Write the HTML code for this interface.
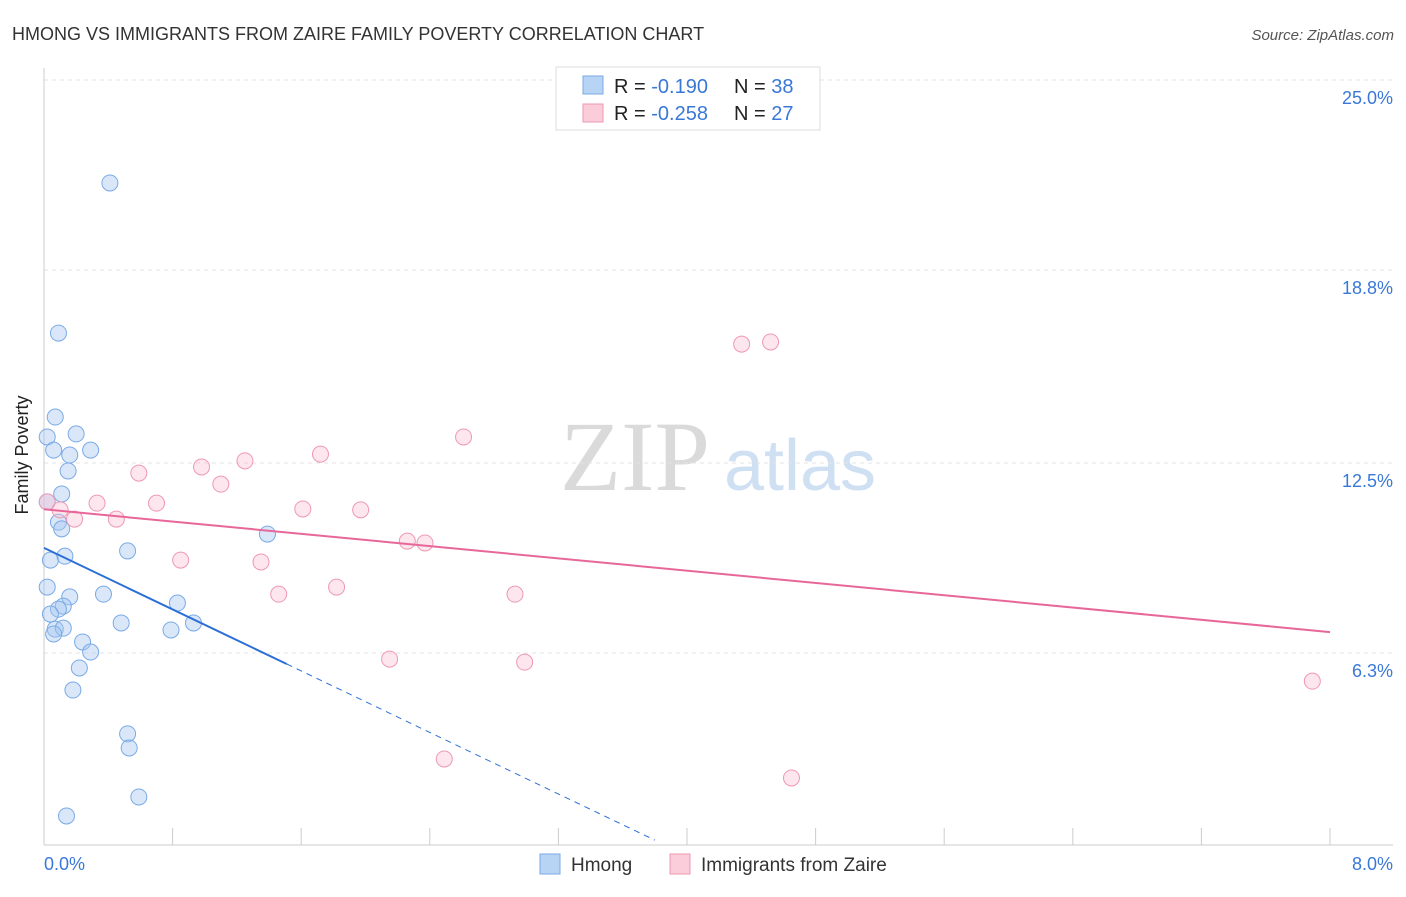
<!DOCTYPE html>
<html><head><meta charset="utf-8">
<style>
body{margin:0;background:#fff;font-family:"Liberation Sans",sans-serif;}
svg text{font-family:"Liberation Sans",sans-serif;}
</style></head>
<body>
<svg id="chart" width="1406" height="892" xmlns="http://www.w3.org/2000/svg">
<text x="12" y="40" font-size="18" fill="#333">HMONG VS IMMIGRANTS FROM ZAIRE FAMILY POVERTY CORRELATION CHART</text>
<text x="1394" y="40" font-size="15" fill="#555" font-style="italic" text-anchor="end">Source: ZipAtlas.com</text>
<g>
<text x="635" y="490" font-size="100" fill="#dadada" style="font-family:'Liberation Serif',serif" text-anchor="middle">ZIP</text>
<text x="800" y="490" font-size="72" fill="#cfe0f3" text-anchor="middle">atlas</text>
</g>
<g id="grid"></g>
<g id="axes"></g>
<g id="marks"></g>
<text x="28" y="455" font-size="18" fill="#222" text-anchor="middle" transform="rotate(-90 28 455)">Family Poverty</text>
<g>
<rect x="556" y="67" width="264" height="63" fill="#fff" stroke="#ddd"/>
<rect x="583" y="76" width="20" height="18" fill="#b8d4f5" stroke="#7aaae6"/>
<text x="614" y="93" font-size="20" fill="#222">R = <tspan fill="#3a78d8">-0.190</tspan></text>
<text x="734" y="93" font-size="20" fill="#222">N = <tspan fill="#3a78d8">38</tspan></text>
<rect x="583" y="104" width="20" height="18" fill="#fbccd9" stroke="#ee99b3"/>
<text x="614" y="120" font-size="20" fill="#222">R = <tspan fill="#3a78d8">-0.258</tspan></text>
<text x="734" y="120" font-size="20" fill="#222">N = <tspan fill="#3a78d8">27</tspan></text>
</g>
<g>
<rect x="540" y="854" width="20" height="20" fill="#b8d4f5" stroke="#7aaae6"/>
<text x="571" y="871" font-size="19" fill="#333">Hmong</text>
<rect x="670" y="854" width="20" height="20" fill="#fbccd9" stroke="#ee99b3"/>
<text x="701" y="871" font-size="19" fill="#333">Immigrants from Zaire</text>
</g>
</svg>
<script>
const yTicks=[25.0,18.8,12.5,6.3];
const yTickLabels=["25.0%","18.8%","12.5%","6.3%"];
const xTickLabels=["0.0%","8.0%"];
const hmongX=[0.41,0.09,0.07,0.02,0.20,0.29,0.06,0.16,0.15,0.11,0.02,0.09,0.11,0.13,0.52,1.39,0.04,0.02,0.37,0.16,0.12,0.09,0.04,0.83,0.48,0.93,0.79,0.07,0.12,0.06,0.24,0.29,0.22,0.18,0.52,0.53,0.59,0.14];
const hmongY=[21.64,16.74,14.0,13.35,13.45,12.92,12.92,12.76,12.24,11.49,11.23,10.57,10.35,9.46,9.63,10.18,9.33,8.45,8.22,8.13,7.83,7.73,7.57,7.93,7.28,7.28,7.05,7.08,7.11,6.92,6.66,6.33,5.81,5.09,3.66,3.20,1.60,0.98];
const zaireX=[0.02,0.10,0.19,0.33,0.45,0.59,0.70,0.85,0.98,1.10,1.25,1.35,1.46,1.61,1.72,1.82,1.97,2.15,2.26,2.37,2.49,2.61,2.93,2.99,4.34,4.52,4.65,7.89];
const zaireY=[11.23,10.97,10.67,11.19,10.67,12.17,11.19,9.33,12.37,11.81,12.57,9.27,8.22,11.0,12.79,8.45,10.97,6.10,9.95,9.89,2.84,13.35,8.22,6.0,16.38,16.45,2.22,5.38];
const hmongTrend=[9.73,-2.51];
const zaireTrend=[10.99,-0.501];
const X=v=>44+v*160.75, Y=v=>80+(25-v)*30.64;
const NS="http://www.w3.org/2000/svg";
function mk(parent,tag,attrs){const e=document.createElementNS(NS,tag);for(const k in attrs)e.setAttribute(k,attrs[k]);document.getElementById(parent).appendChild(e);return e;}
yTicks.forEach((t,i)=>{
  const l=mk('grid','line',{x1:44,x2:1393,y1:Y(t),y2:Y(t),stroke:'#e3e3e3','stroke-dasharray':'4 4'});
  
  
  const tx=mk('axes','text',{x:1393,y:Y(t)+24,'font-size':18,fill:'#3a78d8','text-anchor':'end'});
  tx.textContent=yTickLabels[i];
  
  
});
let a=mk('axes','line',{x1:44,x2:44,y1:68,y2:845,stroke:'#ccc'});


a=mk('axes','line',{x1:44,x2:1393,y1:845,y2:845,stroke:'#ccc'});


for(let i=0;i<=10;i++){const t=mk('axes','line',{x1:X(i*0.8),x2:X(i*0.8),y1:828,y2:845,stroke:'#ccc'});

}
let xl=mk('axes','text',{x:44,y:870,'font-size':18,fill:'#3a78d8'});xl.textContent=xTickLabels[0];


xl=mk('axes','text',{x:1393,y:870,'font-size':18,fill:'#3a78d8','text-anchor':'end'});xl.textContent=xTickLabels[1];


hmongX.forEach((x,i)=>{const c=mk('marks','circle',{cx:X(x),cy:Y(hmongY[i]),r:8,fill:'rgba(164,198,240,0.42)',stroke:'#7aaae6','stroke-width':1});

});
zaireX.forEach((x,i)=>{const c=mk('marks','circle',{cx:X(x),cy:Y(zaireY[i]),r:8,fill:'rgba(249,190,208,0.38)',stroke:'#ee99b3','stroke-width':1});

});
const hy=x=>hmongTrend[0]+hmongTrend[1]*x, zy=x=>zaireTrend[0]+zaireTrend[1]*x;
let t=mk('marks','line',{x1:X(0),y1:Y(hy(0)),x2:X(1.51),y2:Y(hy(1.51)),stroke:'#2c6fd6','stroke-width':2});


t=mk('marks','line',{x1:X(1.51),y1:Y(hy(1.51)),x2:X(3.8),y2:Y(hy(3.8)),stroke:'#2c6fd6','stroke-width':1,'stroke-dasharray':'6 5'});


t=mk('marks','line',{x1:X(0),y1:Y(zy(0)),x2:X(8),y2:Y(zy(8)),stroke:'#e8679a','stroke-width':2});


</script>
</body></html>
